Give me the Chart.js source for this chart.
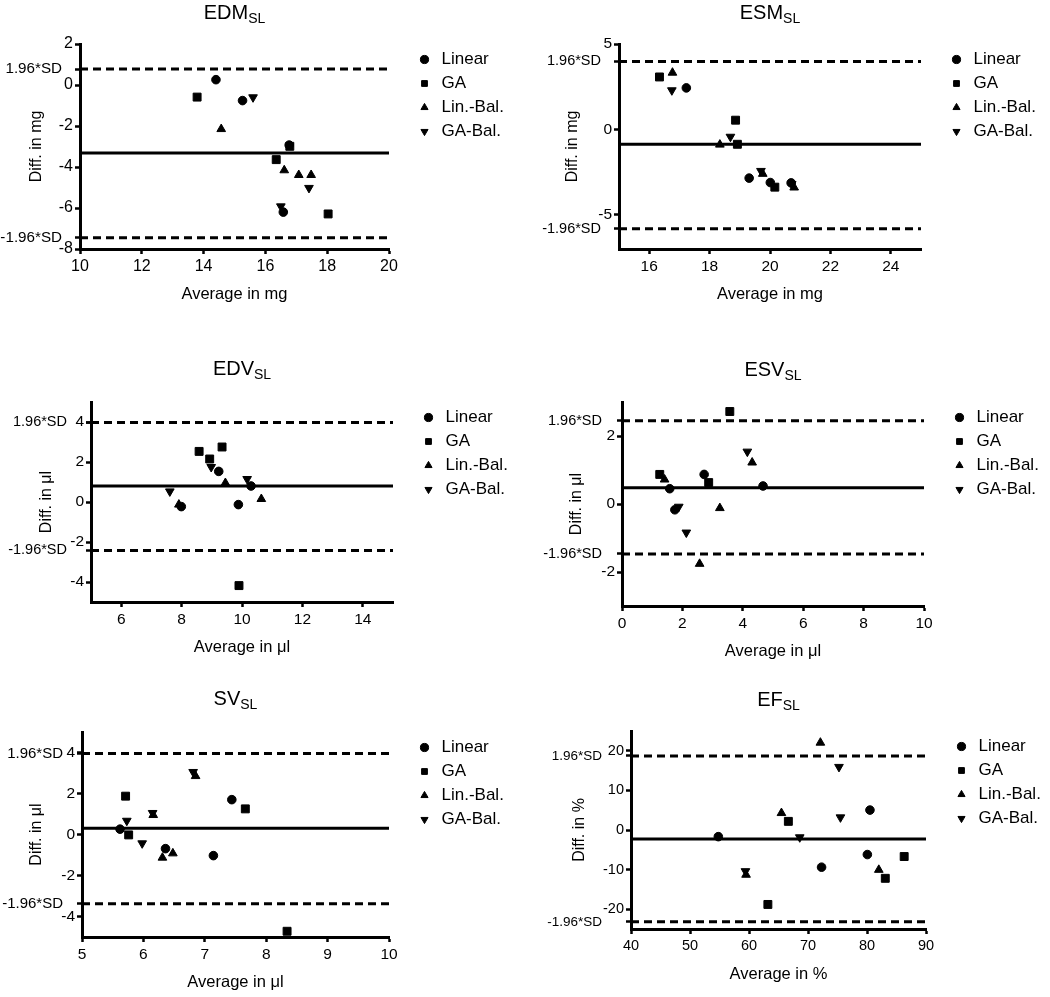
<!DOCTYPE html>
<html><head><meta charset="utf-8">
<script src="https://cdn.jsdelivr.net/npm/chart.js@4.4.1/dist/chart.umd.min.js"></script>
<style>
html,body{margin:0;padding:0;background:#fff;overflow:hidden;width:1050px;height:997px;}
body{position:relative;font-family:"Liberation Sans",Arial,Helvetica,sans-serif;color:#000;}
canvas{position:absolute;}
.ttl{position:absolute;font-size:20px;line-height:20px;white-space:nowrap;transform:translateX(-50%);}
.ttl span{font-size:14px;position:relative;top:4px;}
</style></head><body>
<script>
// ---------- DATA ----------
const seriesNames = ['Linear', 'GA', 'Lin.-Bal.', 'GA-Bal.'];

// EDM_SL  [average, difference]
const edmLinear = [[14.40, 0.26], [15.26, -0.76], [16.77, -2.93], [16.58, -6.20]];
const edmGA     = [[13.79, -0.59], [16.35, -3.64], [16.79, -2.99], [18.03, -6.29]];
const edmLinBal = [[14.57, -2.15], [16.61, -4.16], [17.08, -4.39], [17.48, -4.39]];
const edmGABal  = [[15.60, -0.60], [16.50, -5.92], [17.41, -5.02]];
const edmLimits = [0.78, -3.32, -7.45];           // +1.96SD, mean, -1.96SD
const edmXTicks = [10, 12, 14, 16, 18, 20];
const edmYTicks = [2, 0, -2, -4, -6, -8];

// ESM_SL
const esmLinear = [[17.23, 2.43], [19.31, -2.85], [20.01, -3.11], [20.70, -3.13]];
const esmGA     = [[16.34, 3.07], [18.86, 0.54], [18.92, -0.87], [20.16, -3.38]];
const esmLinBal = [[16.77, 3.32], [18.34, -0.89], [19.76, -2.60], [20.80, -3.40]];
const esmGABal  = [[16.75, 2.29], [18.69, -0.43], [19.70, -2.43], [20.72, -3.20]];
const esmLimits = [3.98, -0.87, -5.81];
const esmXTicks = [16, 18, 20, 22, 24];
const esmYTicks = [5, 0, -5];

// EDV_SL
const edvLinear = [[7.99, -0.23], [9.23, 1.53], [9.88, -0.13], [10.30, 0.80]];
const edvGA     = [[8.58, 2.53], [8.93, 2.15], [9.34, 2.75], [9.90, -4.18]];
const edvLinBal = [[7.91, -0.13], [9.45, 0.95], [10.64, 0.15]];
const edvGABal  = [[7.61, 0.53], [8.98, 1.75], [10.17, 1.15]];
const edvLimits = [3.98, 0.80, -2.42];
const edvXTicks = [6, 8, 10, 12, 14];
const edvYTicks = [4, 2, 0, -2, -4];

// ESV_SL
const esvLinear = [[1.58, 0.45], [1.75, -0.17], [2.72, 0.87], [4.67, 0.53]];
const esvGA     = [[1.25, 0.87], [2.87, 0.63], [3.57, 2.72]];
const esvLinBal = [[1.41, 0.72], [2.57, -1.76], [3.24, -0.12], [4.31, 1.22]];
const esvGABal  = [[1.88, -0.08], [2.13, -0.84], [4.15, 1.54]];
const esvLimits = [2.45, 0.48, -1.47];
const esvXTicks = [0, 2, 4, 6, 8, 10];
const esvYTicks = [2, 0, -2];

// SV_SL
const svLinear = [[5.62, 0.26], [6.36, -0.69], [7.14, -1.03], [7.44, 1.70]];
const svGA     = [[5.71, 1.87], [5.76, -0.02], [7.66, 1.25], [8.34, -4.72]];
const svLinBal = [[6.16, 0.95], [6.31, -1.13], [6.48, -0.92], [6.85, 2.85]];
const svGABal  = [[5.73, 0.67], [5.98, -0.43], [6.15, 1.05], [6.81, 3.05]];
const svLimits = [3.95, 0.30, -3.38];
const svXTicks = [5, 6, 7, 8, 9, 10];
const svYTicks = [4, 2, 0, -2, -4];

// EF_SL
const efLinear = [[54.8, -1.68], [72.3, -9.39], [80.06, -6.2], [80.5, 5.03]];
const efGA     = [[63.2, -18.8], [66.67, 2.18], [83.1, -12.2], [86.3, -6.7]];
const efLinBal = [[59.5, -11.3], [65.5, 4.28], [72.1, 22.05], [82.0, -10.06]];
const efGABal  = [[59.4, -10.4], [68.6, -1.84], [75.25, 15.93], [75.5, 3.19]];
const efLimits = [18.7, -2.26, -23.2];
const efXTicks = [40, 50, 60, 70, 80, 90];
const efYTicks = [20, 10, 0, -10, -20];

// ---------- RENDER ----------
Chart.defaults.font.family = '"Liberation Sans", Arial, Helvetica, sans-serif';
Chart.defaults.color = '#000';

const markerStyles = [
  {pointStyle: 'circle', r: 4.3, rot: 0},
  {pointStyle: 'rect', r: 5.6, rot: 0},
  {pointStyle: 'triangle', r: 5, rot: 0},
  {pointStyle: 'triangle', r: 5, rot: 180}
];
const PADW = 20, LEGW = 100, XH = 59;

const sdPlugin = {
  id: 'sdLabels',
  afterDraw(chart, args, o) {
    const {ctx, chartArea, scales} = chart;
    const y = scales.y;
    ctx.save();
    ctx.font = o.size + 'px "Liberation Sans", Arial, Helvetica, sans-serif';
    ctx.fillStyle = '#000';
    ctx.textAlign = 'right';
    ctx.textBaseline = 'middle';
    ctx.fillText('1.96*SD', chartArea.left - o.gap, y.getPixelForValue(o.up));
    ctx.fillText('-1.96*SD', chartArea.left - o.gap, y.getPixelForValue(o.lo));
    ctx.restore();
  }
};

function panel(p) {
  const W = p.right + PADW + LEGW + 20, H = p.bottom + XH;
  const cv = document.createElement('canvas');
  cv.width = W; cv.height = H;
  cv.style.left = p.x + 'px'; cv.style.top = p.y + 'px';
  document.body.appendChild(cv);

  const t = document.createElement('div');
  t.className = 'ttl';
  t.innerHTML = p.title + '<span>SL</span>';
  t.style.left = (p.x + (p.axis + p.right) / 2) + 'px';
  t.style.top = p.ttlTop + 'px';
  document.body.appendChild(t);

  const ds = p.series.map((s, i) => ({
    label: seriesNames[i],
    data: s.map(([x, y]) => ({x, y})),
    xAxisID: 'x', yAxisID: 'y',
    pointStyle: markerStyles[i].pointStyle,
    pointRadius: markerStyles[i].r,
    pointHoverRadius: markerStyles[i].r,
    pointRotation: markerStyles[i].rot,
    backgroundColor: '#000', borderColor: '#000', borderWidth: 1
  }));
  const [up, mean, lo] = p.limits;
  const line = (v, dash) => ({
    label: 'lim',
    data: [{x: p.xRange[0], y: v}, {x: p.xRange[1], y: v}],
    xAxisID: 'x', yAxisID: 'y',
    showLine: true, borderColor: '#000', backgroundColor: '#000',
    borderWidth: 3, borderDash: dash, pointRadius: 0, pointHoverRadius: 0, fill: false
  });
  ds.push(line(up, [8, 5]), line(mean, []), line(lo, [8, 5]));

  new Chart(cv, {
    type: 'scatter',
    data: {datasets: ds},
    plugins: [sdPlugin],
    options: {
      responsive: false, animation: false, devicePixelRatio: 1,
      events: [],
      layout: {padding: {left: p.L, top: p.top, right: 20, bottom: 0}},
      plugins: {
        legend: {
          position: 'right', align: 'start', fullSize: false, maxWidth: LEGW,
          labels: {
            usePointStyle: true, boxWidth: 17, boxHeight: 5.8, padding: 7,
            color: '#000', font: {size: 17},
            filter: (it) => it.datasetIndex < 4
          }
        },
        tooltip: {enabled: false},
        sdLabels: {gap: p.gap, up: up, lo: lo, size: p.sdSize}
      },
      scales: {
        x: {
          type: 'linear', position: 'bottom', min: p.xRange[0], max: p.xRange[1],
          afterBuildTicks: (s) => { s.ticks = p.xTicks.map(v => ({value: v})); },
          afterFit: (s) => { s.height = XH; },
          ticks: {autoSkip: false, maxRotation: 0, color: '#000', font: {size: p.tickSize}, padding: 3},
          grid: {drawOnChartArea: false, drawTicks: true, tickLength: 5, tickWidth: 2.5, tickColor: '#000'},
          border: {display: true, width: 3, color: '#000'},
          title: {display: true, text: p.xTitle, color: '#000', font: {size: 16.5}, padding: {top: 4, bottom: 4}}
        },
        y: {
          type: 'linear', position: 'left', min: p.yRange[0], max: p.yRange[1],
          afterBuildTicks: (s) => {
            s.ticks = p.yTicks.map(v => ({value: v}))
              .concat([{value: up, sd: true}, {value: lo, sd: true}])
              .sort((a, b) => a.value - b.value);
          },
          afterFit: (s) => { s.width = p.axis - p.L; },
          ticks: {autoSkip: false, color: '#000', font: {size: p.tickSize}, padding: 2,
                  callback: (v, i, tk) => (tk[i] && tk[i].sd) ? '' : v},
          grid: {drawOnChartArea: false, drawTicks: true, tickLength: 5, tickWidth: 2.5, tickColor: '#000'},
          border: {display: true, width: 3, color: '#000'},
          title: {display: true, text: p.yTitle, color: '#000', font: {size: 16}, padding: {top: 4, bottom: 4}}
        },
        padR: {
          type: 'linear', position: 'right', min: 0, max: 1, display: true,
          grid: {display: false}, border: {display: false}, ticks: {display: false},
          afterFit: (s) => { s.width = PADW; }
        }
      }
    }
  });
}

panel({x: 0, y: 0, L: 23, axis: 80, top: 44, bottom: 249, right: 389, gap: 18, ttlTop: 2.4,
  sdSize: 15.2, tickSize: 16,
  title: 'EDM', series: [edmLinear, edmGA, edmLinBal, edmGABal], limits: edmLimits,
  xRange: [10, 20], yRange: [-8, 2], xTicks: edmXTicks, yTicks: edmYTicks,
  xTitle: 'Average in mg', yTitle: 'Diff. in mg'});
panel({x: 520, y: 0, L: 39, axis: 99, top: 44, bottom: 249, right: 401, gap: 18, ttlTop: 2.4,
  sdSize: 14.5, tickSize: 15.5,
  title: 'ESM', series: [esmLinear, esmGA, esmLinBal, esmGABal], limits: esmLimits,
  xRange: [15, 25], yRange: [-7, 5], xTicks: esmXTicks, yTicks: esmYTicks,
  xTitle: 'Average in mg', yTitle: 'Diff. in mg'});
panel({x: 0, y: 330, L: 33, axis: 91, top: 72, bottom: 272, right: 393, gap: 24, ttlTop: 358,
  sdSize: 14.5, tickSize: 15.5,
  title: 'EDV', series: [edvLinear, edvGA, edvLinBal, edvGABal], limits: edvLimits,
  xRange: [5, 15], yRange: [-5, 5], xTicks: edvXTicks, yTicks: edvYTicks,
  xTitle: 'Average in μl', yTitle: 'Diff. in μl'});
panel({x: 520, y: 330, L: 43, axis: 102, top: 72, bottom: 276, right: 404, gap: 20, ttlTop: 358.5,
  sdSize: 14.5, tickSize: 15.5,
  title: 'ESV', series: [esvLinear, esvGA, esvLinBal, esvGABal], limits: esvLimits,
  xRange: [0, 10], yRange: [-3, 3], xTicks: esvXTicks, yTicks: esvYTicks,
  xTitle: 'Average in μl', yTitle: 'Diff. in μl'});
panel({x: 0, y: 660, L: 23, axis: 82, top: 72, bottom: 277, right: 389, gap: 19, ttlTop: 688,
  sdSize: 15, tickSize: 15.5,
  title: 'SV', series: [svLinear, svGA, svLinBal, svGABal], limits: svLimits,
  xRange: [5, 10], yRange: [-5, 5], xTicks: svXTicks, yTicks: svYTicks,
  xTitle: 'Average in μl', yTitle: 'Diff. in μl'});
panel({x: 520, y: 660, L: 46, axis: 111, top: 71, bottom: 269, right: 406, gap: 29, ttlTop: 688.5,
  sdSize: 13.5, tickSize: 14.5,
  title: 'EF', series: [efLinear, efGA, efLinBal, efGABal], limits: efLimits,
  xRange: [40, 90], yRange: [-25, 25], xTicks: efXTicks, yTicks: efYTicks,
  xTitle: 'Average in %', yTitle: 'Diff. in %'});
</script>
</body></html>
